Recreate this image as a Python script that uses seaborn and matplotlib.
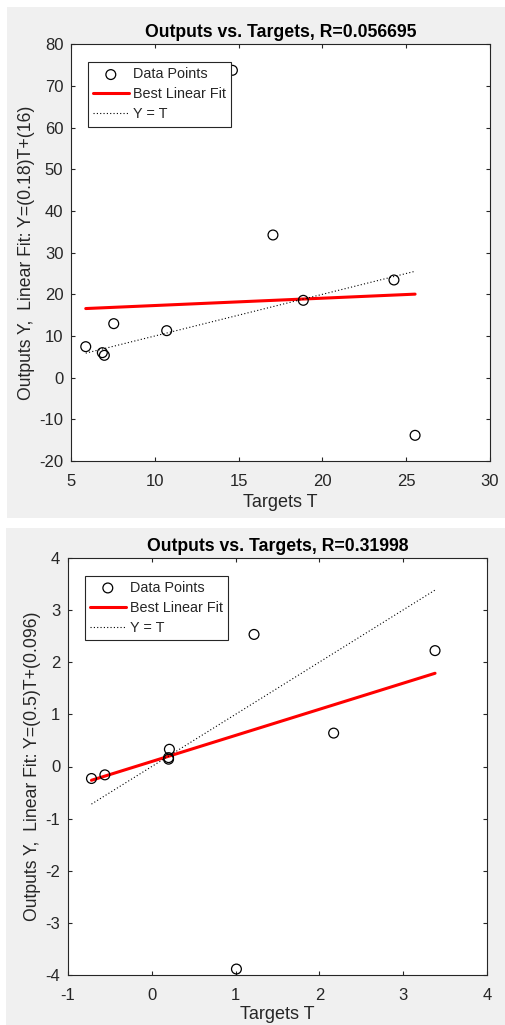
import numpy as np
import pandas as pd
import matplotlib
matplotlib.use("Agg")
import matplotlib.pyplot as plt
from matplotlib.patches import Rectangle
import seaborn as sns

# ---- first regression panel ----
targets_a = [5.88, 6.87, 6.99, 7.55, 10.71, 14.63, 17.05, 18.86, 24.27, 25.53]
outputs_a = [7.44, 6.00, 5.36, 12.96, 11.28, 73.76, 34.24, 18.56, 23.44, -13.84]
r_a = 0.056695
slope_a = 0.176
intercept_a = 15.55
xticks_a = [5, 10, 15, 20, 25, 30]
yticks_a = [-20, -10, 0, 10, 20, 30, 40, 50, 60, 70, 80]

# ---- second regression panel ----
targets_b = [-0.72, -0.56, 0.21, 0.20, 0.20, 1.22, 2.17, 3.38, 1.01]
outputs_b = [-0.23, -0.16, 0.33, 0.17, 0.14, 2.53, 0.64, 2.22, -3.88]
r_b = 0.31998
slope_b = 0.5
intercept_b = 0.096
xticks_b = [-1, 0, 1, 2, 3, 4]
yticks_b = [-4, -3, -2, -1, 0, 1, 2, 3, 4]

sns.set_style("ticks")
plt.rcParams["font.family"] = ["Liberation Sans", "DejaVu Sans"]
DARK = "#262626"
plt.rcParams.update({
    "axes.unicode_minus": False,
    "axes.edgecolor": DARK,
    "axes.linewidth": 0.8,
    "xtick.color": DARK,
    "ytick.color": DARK,
    "xtick.labelcolor": DARK,
    "ytick.labelcolor": DARK,
    "axes.labelcolor": DARK,
})

W, H = 506, 1025
fig = plt.figure(figsize=(W / 100, H / 100), dpi=100, facecolor="white")

# light gray window backgrounds behind each panel
fig.add_artist(Rectangle((7 / W, 1 - 518 / H), 499 / W, 511 / H,
                         transform=fig.transFigure, facecolor="#f0f0f0",
                         edgecolor="none", zorder=-10))
fig.add_artist(Rectangle((6 / W, 0), 500 / W, (H - 528) / H,
                         transform=fig.transFigure, facecolor="#f0f0f0",
                         edgecolor="none", zorder=-10))


def draw_panel(ax, targets, outputs, r, slope, intercept, xticks, yticks,
               xlabelpad):
    df = pd.DataFrame({"T": targets, "Y": outputs})
    tmin, tmax = min(targets), max(targets)
    line_df = pd.DataFrame({"T": [tmin, tmax]})
    line_df["fit"] = slope * line_df["T"] + intercept
    line_df["ident"] = line_df["T"]

    sns.scatterplot(data=df, x="T", y="Y", ax=ax, marker="o", s=50,
                    color="none", edgecolor="black", linewidth=0.9,
                    label="Data Points", zorder=3, legend=False)
    ax.collections[-1].set_facecolor("none")
    ax.collections[-1].set_edgecolor("black")
    sns.lineplot(data=line_df, x="T", y="fit", ax=ax, color="red",
                 linewidth=2.2, label="Best Linear Fit", legend=False,
                 estimator=None, sort=False, zorder=2)
    sns.lineplot(data=line_df, x="T", y="ident", ax=ax, color="black",
                 linewidth=0.8, dashes=False, label="Y = T", legend=False,
                 estimator=None, sort=False, zorder=2)
    ax.lines[-1].set_linestyle((0, (1, 2)))

    ax.set_xlim(xticks[0], xticks[-1])
    ax.set_ylim(yticks[0], yticks[-1])
    ax.set_xticks(xticks)
    ax.set_yticks(yticks)
    ax.tick_params(direction="in", length=3, width=0.8, top=True, right=True,
                   labelsize=12)
    ax.tick_params(axis="x", pad=9)
    ax.tick_params(axis="y", pad=5.5)
    for s in ax.spines.values():
        s.set_visible(True)

    ax.set_title(f"Outputs vs. Targets, R={r:.5g}", fontsize=12.7,
                 fontweight="bold", color="black", pad=5)
    ax.set_xlabel("Targets T", fontsize=13, labelpad=xlabelpad)
    ax.set_ylabel(f"Outputs Y,  Linear Fit: Y=({slope:.2g})T+({intercept:.2g})",
                  fontsize=12.7, labelpad=3)

    handles = [ax.collections[-1], ax.lines[0], ax.lines[1]]
    labels = ["Data Points", "Best Linear Fit", "Y = T"]
    bb = ax.get_position()
    ax_w_px = bb.width * W
    ax_h_px = bb.height * H
    leg = ax.legend(handles, labels, loc="upper left",
                    bbox_to_anchor=(16.7 / ax_w_px, 1 - 18 / ax_h_px),
                    borderaxespad=0, fontsize=10.4, frameon=True, fancybox=False,
                    framealpha=1, edgecolor=DARK, handlelength=2.5,
                    handletextpad=0.3, labelspacing=0.42, borderpad=0.35)
    leg.get_frame().set_linewidth(0.8)
    ax.set_facecolor("white")


ax1 = fig.add_axes([71 / W, 1 - 461 / H, 419 / W, 416.7 / H])
draw_panel(ax1, targets_a, outputs_a, r_a, slope_a, intercept_a, xticks_a,
           yticks_a, xlabelpad=4)

ax2 = fig.add_axes([68 / W, 1 - 975.3 / H, 419 / W, 417.6 / H])
draw_panel(ax2, targets_b, outputs_b, r_b, slope_b, intercept_b, xticks_b,
           yticks_b, xlabelpad=2)

fig.savefig("out.png", dpi=100, facecolor="white")
